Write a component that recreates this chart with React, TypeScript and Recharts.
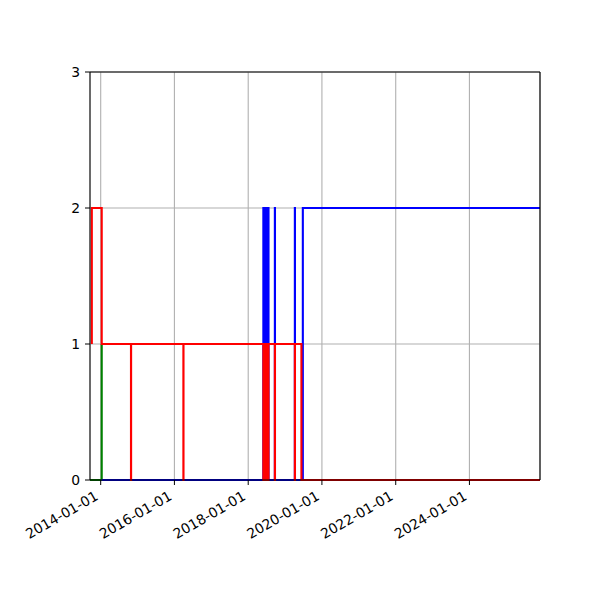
import React from "react";
import {
  LineChart,
  Line,
  XAxis,
  YAxis,
  CartesianGrid,
  ReferenceLine,
} from "recharts";

// x range and ticks
const xStart = "2013-09-17";
const xEnd = "2025-11-30";
const xTickDates = [
  "2014-01-01",
  "2016-01-01",
  "2018-01-01",
  "2020-01-01",
  "2022-01-01",
  "2024-01-01",
];
const yTicks = [0, 1, 2, 3];

// step series: each date is where the value changes (step after)
const greenDates = ["2013-09-17", "2014-01-11"];
const greenValues = [0, 1];

const blueDates = [
  "2014-01-11",
  "2018-05-31", "2018-06-01",
  "2018-06-17", "2018-06-18",
  "2018-07-03", "2018-07-04",
  "2018-07-20", "2018-07-21",
  "2018-09-22", "2018-09-23",
  "2019-04-08", "2019-04-09",
  "2019-06-26",
  "2025-11-30",
];
const blueValues = [0, 2, 0, 2, 0, 2, 0, 2, 0, 2, 0, 2, 0, 2, 2];

const redDates = [
  "2013-10-05", "2013-10-05",
  "2014-01-11",
  "2014-10-28", "2014-10-29",
  "2016-03-30", "2016-03-31",
  "2018-05-31", "2018-06-01",
  "2018-06-17", "2018-06-18",
  "2018-07-03", "2018-07-04",
  "2018-07-20", "2018-07-21",
  "2018-09-22", "2018-09-23",
  "2019-04-08", "2019-04-09",
  "2019-06-12",
  "2025-11-30",
];
const redValues = [1, 2, 1, 0, 1, 0, 1, 0, 1, 0, 1, 0, 1, 0, 1, 0, 1, 0, 1, 0, 0];

const toTime = (s: string) => Date.parse(s + "T00:00:00Z");
const fmtDate = (t: number) => new Date(t).toISOString().slice(0, 10);

const toSeries = (dates: string[], values: number[]) =>
  dates.map((d, i) => ({ t: toTime(d), v: values[i] }));

const greenData = toSeries(greenDates, greenValues);
const blueData = toSeries(blueDates, blueValues);
const redData = toSeries(redDates, redValues);

const xMin = toTime(xStart);
const xMax = toTime(xEnd);
const xTicks = xTickDates.map(toTime);

const FONT = "DejaVu Sans, sans-serif";

function XTick({ x, y, payload }: any) {
  return (
    <text
      x={x - 1.6}
      y={y + 8.9}
      textAnchor="end"
      transform={`rotate(-30, ${x - 1.6}, ${y + 8.9})`}
      fontFamily={FONT}
      fontSize={13.9}
      fill="#000"
    >
      {fmtDate(payload.value)}
    </text>
  );
}

function YTick({ x, y, payload }: any) {
  return (
    <text
      x={x}
      y={y}
      dy={5}
      textAnchor="end"
      fontFamily={FONT}
      fontSize={13.9}
      fill="#000"
    >
      {payload.value}
    </text>
  );
}

export default function App() {
  return (
    <div style={{ position: "absolute", left: 0, top: 0, background: "#fff" }}>
      <LineChart
        width={600}
        height={600}
        margin={{ top: 72, right: 60, left: 60, bottom: 40 }}
      >
        <CartesianGrid stroke="#b0b0b0" strokeWidth={1.1} />
        <XAxis
          dataKey="t"
          type="number"
          domain={[xMin, xMax]}
          ticks={xTicks}
          interval={0}
          allowDataOverflow
          height={80}
          stroke="#000"
          tickSize={5}
          tickMargin={5}
          tick={<XTick />}
        />
        <YAxis
          type="number"
          domain={[0, 3]}
          ticks={yTicks}
          interval={0}
          width={30}
          stroke="#000"
          tickSize={5}
          tickMargin={5}
          tick={<YTick />}
        />
        <Line
          data={greenData}
          dataKey="v"
          type="stepAfter"
          stroke="#008000"
          strokeWidth={2.1}
          dot={false}
          isAnimationActive={false}
        />
        <Line
          data={blueData}
          dataKey="v"
          type="stepAfter"
          stroke="#0000ff"
          strokeWidth={2.1}
          dot={false}
          isAnimationActive={false}
        />
        <Line
          data={redData}
          dataKey="v"
          type="stepAfter"
          stroke="#ff0000"
          strokeWidth={2.1}
          dot={false}
          isAnimationActive={false}
        />
        <ReferenceLine y={3} stroke="#000" strokeWidth={1.1} />
        <ReferenceLine x={xMax} stroke="#000" strokeWidth={1.1} />
      </LineChart>
    </div>
  );
}
